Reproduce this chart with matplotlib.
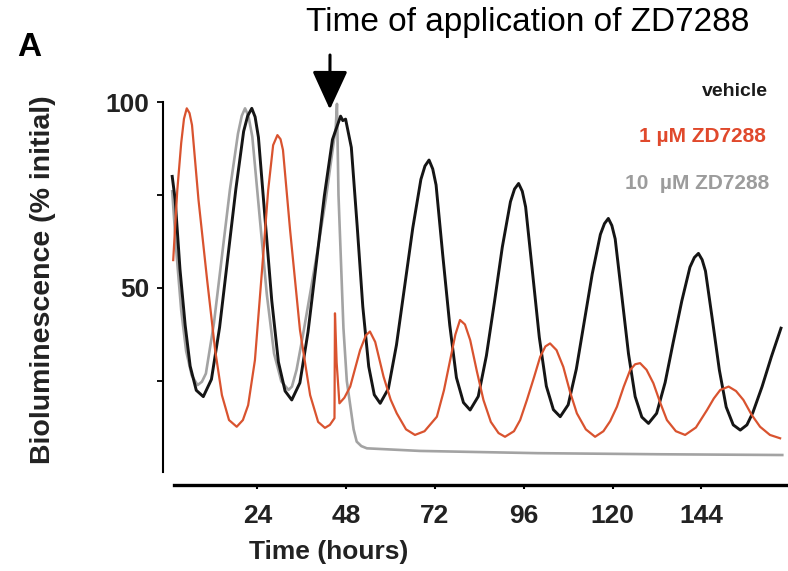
import matplotlib
matplotlib.use("Agg")
import matplotlib.pyplot as plt

plt.rcParams["font.family"] = ["Liberation Sans", "DejaVu Sans"]

# Values (time in hours, % of initial bioluminescence)
vehicle_t = [1.0, 1.8, 3.1, 4.5, 5.85, 7.5, 9.4, 11.6, 13.8, 16.0, 18.2, 20.3, 21.4, 22.5,
             23.4, 24.3, 26.1, 27.9, 29.7, 31.5, 33.3, 35.5, 37.7, 39.9, 42.1, 44.3, 46.5,
             47.1, 47.85, 49.4, 51.0, 52.5, 54.1, 55.6, 57.2, 59.4, 61.6, 63.8, 66.0,
             68.2, 69.3, 70.4, 71.4, 72.3, 74.1, 76.0, 77.8, 79.7, 81.5, 83.7, 85.9,
             88.1, 90.2, 92.4, 93.5, 94.6, 95.6, 96.5, 98.35, 100.2, 102.1, 104.0,
             105.85, 108.0, 110.2, 112.35, 114.5, 116.7, 117.8, 118.85, 119.8, 120.7,
             122.5, 124.3, 126.1, 127.9, 129.7, 131.9, 134.2, 136.4, 138.7, 140.9,
             142.1, 143.2, 144.2, 145.1, 147.0, 148.85, 150.7, 152.6, 154.5, 156.3,
             157.9, 160.4, 162.9, 165.5]
vehicle_v = [80, 73.7, 55, 40, 29, 22.5, 20.8, 25.45, 39.4, 58.0, 76.6, 92.1, 96.3, 98.3,
             96.0, 90.5, 68.5, 46.6, 30.1, 22.3, 19.9, 24.5, 38.2, 56.4, 74.7, 89.9, 96.2,
             95.0, 95.4, 87.8, 66.4, 45.0, 28.9, 21.3, 19.0, 22.9, 34.7, 50.4, 66.1,
             79.2, 82.8, 84.4, 82.0, 77.7, 58.9, 40.0, 25.9, 19.2, 17.2, 20.85, 31.8,
             46.4, 61.0, 73.2, 76.6, 78.1, 76.0, 71.8, 54.3, 36.7, 23.6, 17.3,
             15.4, 18.6, 28.2, 41.0, 53.8, 64.4, 67.3, 68.7, 66.8, 63.2,
             47.8, 32.3, 20.8, 15.3, 13.6, 16.3, 24.6, 35.5, 46.5, 55.6,
             58.2, 59.3, 57.6, 54.55, 41.25, 27.95, 18.0, 13.2, 11.8, 13.2,
             16.5, 23.5, 31.5, 39.2]

zd1_t = [1.27, 2.35, 3.43, 4.18, 4.93, 5.68, 6.35, 8.1, 10.43, 12.6, 14.43, 16.35,
         18.43, 20.1, 21.52, 23.35, 25.27, 26.93, 28.27, 29.43, 30.27, 30.93, 32.85,
         35.52, 38.27, 40.43, 42.27, 43.6, 44.85, 44.98, 45.43, 46.18, 47.52, 49.1,
         51.77, 53.35, 54.43, 55.85, 58.1, 60.02, 61.68, 64.18, 66.6, 69.18, 72.52,
         74.43, 76.1, 77.52, 78.77, 80.1, 81.52, 83.35, 85.1, 87.1, 89.18, 90.93,
         93.35, 95.02, 96.85, 98.77, 100.43, 101.85, 103.1, 104.85, 106.68, 108.52,
         110.35, 112.77, 115.27, 117.52, 119.35, 121.18, 123.02, 124.77, 126.1,
         127.43, 129.18, 131.02, 132.93, 134.68, 137.1, 139.6, 142.52, 145.52,
         147.35, 149.1, 151.35, 153.35, 155.35, 157.52, 159.85, 162.52, 165.27]
zd1_v = [57.5, 76, 89, 95.5, 98.3, 97, 93.8, 73.7, 52.2, 33.3, 21.2, 14.5,
         12.7, 14.5, 18.5, 30.6, 54.8, 76.3, 88.4, 91.1, 90.0, 87.1, 65.6,
         38.7, 21.2, 14.0, 12.4, 13.2, 15.0, 43.2, 30, 19.0, 20.5, 23.5,
         33.3, 37.3, 38.3, 35.5, 26.2, 20, 16.3, 12.0, 10.5, 11.5, 15.4,
         22.5, 30.6, 37.5, 41.4, 40.2, 36.0, 27.5, 19.9, 14, 11, 10.0,
         11.5, 14.5, 19.9, 26, 31.5, 34.3, 35.1, 33.3, 28.8, 22,
         16.3, 12, 10.0, 11.5, 14.2, 18.1, 23.5, 28.0, 29.5,
         29.8, 28, 24.4, 19, 14.5, 11.5, 10.5, 12.5, 17.2,
         20.3, 22.6, 23.5, 22.3, 19.9, 16, 12.7, 10.5, 9.6]

zd10_t = [1.0, 2.1, 3.43, 4.77, 6.27, 7.85, 9.02, 10.1, 12.27, 14.43, 16.6, 18.77,
          19.8, 20.68, 21.6, 22.64, 24.6, 26.56, 28.52, 30.48, 32.43, 33.35, 34.6, 36.27,
          38.35, 40.43, 42.52, 44.52, 45.18, 45.52, 45.93, 47.27, 48.18, 49.1, 50.02,
          50.85, 52.1, 53.6, 67.93, 99.6, 132.93, 165.85]
zd10_v = [76, 60, 44, 33, 26.5, 23.9, 24.8, 27, 40.5, 58.5, 76.5, 91.5,
          96.3, 98.3, 96.2, 90.7, 69.5, 48.3, 32.4, 24.9, 22.6, 23.5, 28, 37,
          49, 61, 74, 88.4, 93, 99.5, 75, 39.2, 25, 18.5, 12,
          8.7, 7.5, 6.9, 6.2, 5.6, 5.3, 5.1]

x_ticks = [24, 48, 72, 96, 120, 144]
y_ticks = [25, 50, 75, 100]
y_ticklabels = ["", "50", "", "100"]

black = "#151515"
red = "#d9532f"
grey = "#a3a3a3"

W, H = 788, 571
fig = plt.figure(figsize=(W / 100, H / 100), dpi=100)
ax = fig.add_axes([163 / W, 1 - 485 / H, 1 - 163 / W, (485 - 100) / H])

ax.plot(zd10_t, zd10_v, color=grey, lw=1.9, solid_joinstyle="round")
ax.plot(vehicle_t, vehicle_v, color=black, lw=2.1, solid_joinstyle="round")
ax.plot(zd1_t, zd1_v, color=red, lw=1.6, solid_joinstyle="round")

ax.set_xlim(-1.49, 167.4)
ax.set_ylim(-2.96, 100.54)

for s in ["top", "right"]:
    ax.spines[s].set_visible(False)
ax.spines["left"].set_bounds(0.5, 100)
ax.spines["left"].set_linewidth(1.5)
ax.spines["bottom"].set_bounds(1.5, 167.4)
ax.spines["bottom"].set_linewidth(2.4)

ax.set_xticks(x_ticks)
ax.set_yticks(y_ticks)
ax.set_yticklabels(y_ticklabels)
ax.tick_params(axis="y", length=4, width=1.3, pad=6, labelsize=19)
ax.tick_params(axis="x", length=3, width=1.5, pad=11, labelsize=19)
for lab in ax.get_xticklabels() + ax.get_yticklabels():
    lab.set_fontweight("bold")
    lab.set_color("#222222")

ax.set_xlabel("Time (hours)", fontsize=19, fontweight="bold", color="#222222")
ax.xaxis.set_label_coords((329 - 163) / (W - 163), -0.143)
ax.set_ylabel("Bioluminescence (% initial)", fontsize=20.5, fontweight="bold",
              color="#222222")
ax.yaxis.set_label_coords((56 - 163) / (W - 163), (485 - 280) / 385)

# legend as coloured text
fig.text(768 / W, 1 - 91 / H, "vehicle", ha="right", va="center",
         fontsize=14, fontweight="bold", color="#1a1a1a")
fig.text(766 / W, 1 - 137 / H, "1 \u00b5M ZD7288", ha="right", va="center",
         fontsize=15, fontweight="bold", color="#e0492c")
fig.text(769 / W, 1 - 183 / H, "10  \u00b5M ZD7288", ha="right", va="center",
         fontsize=15, fontweight="bold", color="#9c9c9c")

fig.text(528 / W, 1 - 22 / H, "Time of application of ZD7288", ha="center",
         va="center", fontsize=24)
fig.text(29 / W, 1 - 47 / H, "A", ha="center", va="center", fontsize=24,
         fontweight="bold")

# application arrow
ax.annotate("", xy=(43.6, 98.0), xytext=(330, H - 55), textcoords="figure pixels",
            arrowprops=dict(arrowstyle="-|>,head_length=1.2,head_width=0.55",
                            lw=2.2, color="black", mutation_scale=20,
                            shrinkA=0, shrinkB=0),
            annotation_clip=False)

plt.savefig("out.png", dpi=100)
plt.close()
